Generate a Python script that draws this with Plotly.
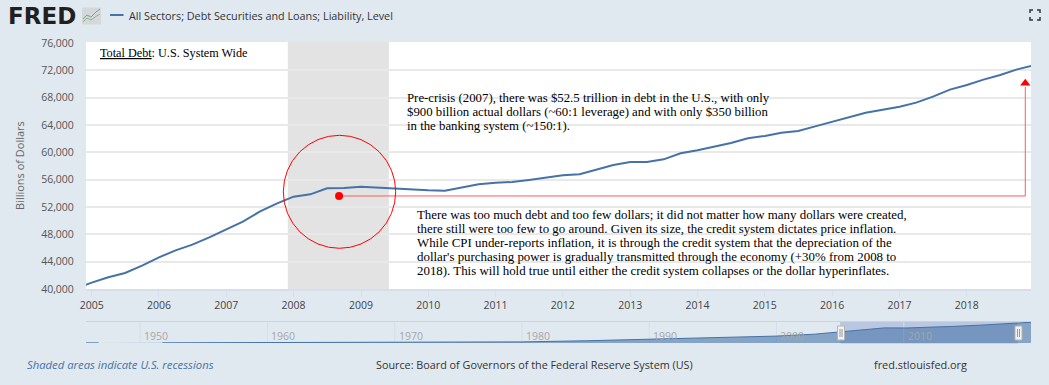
import plotly.graph_objects as go

# ---- main series (quarterly, billions of dollars)
dates = ["2004-10-01",
    "2005-01-01","2005-04-01","2005-07-01","2005-10-01",
    "2006-01-01","2006-04-01","2006-07-01","2006-10-01",
    "2007-01-01","2007-04-01","2007-07-01","2007-10-01",
    "2008-01-01","2008-04-01","2008-07-01","2008-10-01",
    "2009-01-01","2009-04-01","2009-07-01","2009-10-01",
    "2010-01-01","2010-04-01","2010-07-01","2010-10-01",
    "2011-01-01","2011-04-01","2011-07-01","2011-10-01",
    "2012-01-01","2012-04-01","2012-07-01","2012-10-01",
    "2013-01-01","2013-04-01","2013-07-01","2013-10-01",
    "2014-01-01","2014-04-01","2014-07-01","2014-10-01",
    "2015-01-01","2015-04-01","2015-07-01","2015-10-01",
    "2016-01-01","2016-04-01","2016-07-01","2016-10-01",
    "2017-01-01","2017-04-01","2017-07-01","2017-10-01",
    "2018-01-01","2018-04-01","2018-07-01","2018-10-01",
    "2019-01-01"]
debt = [40000,
    40930,41710,42340,43410,
    44630,45660,46490,47560,
    48730,49850,51320,52490,
    53510,53850,54730,54780,
    54975,54830,54780,54630,
    54440,54390,54880,55320,
    55560,55660,55950,56290,
    56630,56780,57510,58140,
    58580,58580,58970,59850,
    60290,60830,61360,62050,
    62390,62870,63120,63800,
    64480,65070,65800,66240,
    66680,67270,68140,69170,
    69850,70630,71310,72140,
    72730]

# ---- navigator series (long history)
nav_dates = ["1945-10-01","1946-10-01",None,"1951-10-01","1960-01-01","1970-01-01","1975-01-01",
             "1980-01-01","1985-01-01","1990-01-01","1995-01-01","2000-01-01","2003-01-01",
             "2005-01-01","2006-07-01","2008-07-01","2010-04-01","2012-01-01","2014-01-01",
             "2016-01-01","2018-01-01","2019-01-01","2020-01-01"]
nav_debt = [400,450,None,600,900,1500,2300,
            4000,8000,13000,18500,25000,32000,
            40900,46500,54700,54400,56600,60300,
            64500,69900,72700,75000]

year_ticks = ["2005-01-01","2006-01-01","2007-01-01","2008-01-01","2009-01-01","2010-01-01","2011-01-01",
              "2012-01-01","2013-01-01","2014-01-01","2015-01-01","2016-01-01","2017-01-01","2018-01-01"]
year_labels = ["2005","2006","2007","2008","2009","2010","2011","2012","2013","2014","2015","2016","2017","2018"]
y_ticks = [40000,44000,48000,52000,56000,60000,64000,68000,72000,76000]
y_labels = ["40,000","44,000","48,000","52,000","56,000","60,000","64,000","68,000","72,000","76,000"]
nav_ticks = ["1950-01-01","1960-01-01","1970-01-01","1980-01-01","1990-01-01","2000-01-01","2010-01-01"]
nav_labels = ["1950","1960","1970","1980","1990","2000","2010"]

recession = ["2007-12-01","2009-06-01"]
window = ["2005-01-01","2018-12-15"]

# ---- annotation marks
leader_x = ["2008-09-04","2018-11-14","2018-11-14"]
leader_y = [53610,53610,69560]
dot_x = ["2008-09-04"]
dot_y = [53610]
arrow_x = ["2018-11-14"]
arrow_y = [70100]

top_note = ["Pre-crisis (2007), there was $52.5 trillion in debt in the U.S., with only",
            "$900 billion actual dollars (~60:1 leverage) and with only $350 billion",
            "in the banking system (~150:1)."]
low_note = ["There was too much debt and too few dollars; it did not matter how many dollars were created,",
            "there still were too few to go around. Given its size, the credit system dictates price inflation.",
            "While CPI under-reports inflation, it is through the credit system that the depreciation of the",
            "dollar's purchasing power is gradually transmitted through the economy (+30% from 2008 to",
            "2018). This will hold true until either the credit system collapses or the dollar hyperinflates."]

W, H = 1049, 385
BG = "#e1e9f0"
BLUE = "#4572a7"
RED = "#ff0000"
SERIF = "Liberation Serif"
SANS = "Open Sans"
def X(p): return p / W
def Y(p): return 1 - p / H

fig = go.Figure()
fig.add_trace(go.Scatter(x=dates, y=debt, mode="lines", line=dict(color=BLUE, width=2), hoverinfo="skip",
                         xaxis="x", yaxis="y"))
fig.add_trace(go.Scatter(x=leader_x, y=leader_y, mode="lines", line=dict(color="#ff5c5c", width=1), hoverinfo="skip"))
fig.add_trace(go.Scatter(x=dot_x, y=dot_y, mode="markers", marker=dict(color=RED, size=8), hoverinfo="skip"))
fig.add_trace(go.Scatter(x=arrow_x, y=arrow_y, mode="markers",
                         marker=dict(color=RED, size=9, symbol="triangle-up"), hoverinfo="skip"))
fig.add_trace(go.Scatter(x=nav_dates, y=nav_debt, mode="lines", line=dict(color=BLUE, width=1),
                         fill="tozeroy", fillcolor="rgba(69,114,167,0.58)", hoverinfo="skip",
                         connectgaps=False, xaxis="x2", yaxis="y2"))

shapes = [
    dict(type="rect", xref="x", yref="paper", x0=recession[0], x1=recession[1], y0=Y(289), y1=Y(42),
         fillcolor="#e3e3e3", line_width=0, layer="below"),
    dict(type="circle", xref="paper", yref="paper", x0=X(283.3), x1=X(395.7), y0=Y(248.3), y1=Y(135.3),
         line=dict(color=RED, width=1)),
    # navigator background and selection
    dict(type="rect", xref="paper", yref="paper", x0=X(86), x1=X(1031), y0=Y(343), y1=Y(322),
         fillcolor=BG, line_width=0, layer="below"),
    dict(type="rect", xref="x2", yref="paper", x0=window[0], x1=window[1], y0=Y(343), y1=Y(322),
         fillcolor="#b9c7e0", line_width=0, layer="below"),
    dict(type="line", xref="paper", yref="paper", x0=X(86), x1=X(1031), y0=Y(321.5), y1=Y(321.5),
         line=dict(color="#cfd3d8", width=1)),
    dict(type="line", xref="paper", yref="paper", x0=X(841), x1=X(1018), y0=Y(343.5), y1=Y(343.5),
         line=dict(color="#cfd3d8", width=1)),
    # logo icon
    dict(type="rect", xref="paper", yref="paper", x0=X(82), x1=X(101), y0=Y(24.5), y1=Y(7.5),
         fillcolor="#d5d8da", line_width=0),
    dict(type="path", xref="paper", yref="paper",
         path=f"M {X(83)} {Y(22)} L {X(87)} {Y(18)} L {X(91)} {Y(20)} L {X(95)} {Y(17)} L {X(100)} {Y(14)}",
         line=dict(color="#8fb67f", width=1)),
    dict(type="path", xref="paper", yref="paper",
         path=f"M {X(83)} {Y(19)} L {X(87)} {Y(15)} L {X(91)} {Y(17)} L {X(96)} {Y(12)} L {X(100)} {Y(9)}",
         line=dict(color="#7f99b8", width=1)),
    # legend key
    dict(type="line", xref="paper", yref="paper", x0=X(110), x1=X(123.5), y0=Y(15), y1=Y(15),
         line=dict(color=BLUE, width=2)),
]
# navigator decade lines
for t in nav_ticks:
    shapes.append(dict(type="line", xref="x2", yref="paper", x0=t, x1=t, y0=Y(343), y1=Y(322),
                       line=dict(color="#d6dee6", width=1), layer="below"))
# navigator handles
for cx in (841, 1018.5):
    shapes.append(dict(type="rect", xref="paper", yref="paper", x0=X(cx - 3.5), x1=X(cx + 3.5), y0=Y(340), y1=Y(326),
                       fillcolor="#f2f2f2", line=dict(color="#b5b5b5", width=1)))
    for dx in (-1, 1):
        shapes.append(dict(type="line", xref="paper", yref="paper", x0=X(cx + dx), x1=X(cx + dx), y0=Y(337), y1=Y(329),
                           line=dict(color="#9a9a9a", width=1)))
# fullscreen icon
for path_px in ([(1030, 13), (1030, 10), (1033, 10)], [(1037, 10), (1040, 10), (1040, 13)],
                [(1030, 17), (1030, 20), (1033, 20)], [(1037, 20), (1040, 20), (1040, 17)]):
    d = "M " + " L ".join(f"{X(a)} {Y(b)}" for a, b in path_px)
    shapes.append(dict(type="path", xref="paper", yref="paper", path=d, line=dict(color="#333333", width=1.5)))

def txt(text, px, py, size, color="#000000", family=SERIF, anchor="left", **kw):
    return dict(text=text, xref="paper", yref="paper", x=X(px), y=Y(py), xanchor=anchor, yanchor="middle",
                showarrow=False, borderpad=0, font=dict(size=size, color=color, family=family, **kw.pop("fontkw", {})), **kw)

annotations = [
    txt("FRED", 7, 16, 23, "#231f20", "DejaVu Sans", fontkw=dict(weight=700)),
    txt("All Sectors; Debt Securities and Loans; Liability, Level", 127.5, 15.5, 10.8, "#333333", SANS),
    txt("<u>Total Debt</u>: U.S. System Wide", 99, 53, 12.2),
    txt("Billions of Dollars", 20, 166, 11, "#666666", SANS, anchor="center", textangle=-90),
    txt("Shaded areas indicate U.S. recessions", 26, 364.5, 11.3, BLUE, SANS, fontkw=dict(style="italic")),
    txt("Source: Board of Governors of the Federal Reserve System (US)", 374.5, 364.5, 10.8, "#333333", SANS),
    txt("fred.stlouisfed.org", 872.5, 364.5, 10.9, "#333333", SANS),
]
for line, py in zip(top_note, (98, 112, 126)):
    annotations.append(txt(line, 406, py, 12.8))
for line, py in zip(low_note, (214.5, 228.5, 242.5, 257, 271)):
    annotations.append(txt(line, 416, py, 12.9))
for t, lab in zip(nav_ticks, nav_labels):
    annotations.append(dict(text=lab, xref="x2", yref="paper", x=t, y=Y(336), xanchor="left", yanchor="middle",
                            xshift=3, showarrow=False, borderpad=0,
                            font=dict(size=10.5, color="#a6a6a6", family=SANS)))

fig.update_layout(
    width=W, height=H, autosize=False, margin=dict(l=0, r=0, t=0, b=0, pad=0),
    paper_bgcolor=BG, plot_bgcolor="#ffffff", showlegend=False, shapes=shapes, annotations=annotations,
    xaxis=dict(domain=[X(86), X(1031)], anchor="y", type="date", range=["2004-12-01", "2018-12-15"], automargin=False,
               tickmode="array", tickvals=year_ticks, ticktext=year_labels, ticks="outside", ticklen=6,
               tickcolor="#d5deea", tickwidth=1, showgrid=False, zeroline=False, showline=True,
               linecolor="#d5deea", linewidth=1.5, tickfont=dict(size=10.5, color="#444444", family=SANS)),
    yaxis=dict(domain=[Y(289), Y(42)], anchor="x", range=[40000, 76140], tickmode="array", tickvals=y_ticks, automargin=False,
               ticktext=y_labels, ticks="outside", ticklen=9, tickcolor="rgba(0,0,0,0)", showgrid=True,
               gridcolor="#e9e9e9", gridwidth=1.5, zeroline=False, tickfont=dict(size=10.5, color="#555555", family=SANS)),
    xaxis2=dict(domain=[X(86), X(1031)], anchor="y2", type="date", range=["1945-10-01", "2020-01-01"], automargin=False,
                tickmode="array", tickvals=nav_ticks, showticklabels=False, ticks="", showgrid=False, zeroline=False),
    yaxis2=dict(domain=[Y(343), Y(322)], anchor="x2", range=[0, 76000], showticklabels=False, ticks="", automargin=False,
                showgrid=False, zeroline=False),
)

fig.write_html("out.html", config=dict(displayModeBar=False),
               post_script="document.body.style.margin='0';document.documentElement.style.overflow='hidden';")
